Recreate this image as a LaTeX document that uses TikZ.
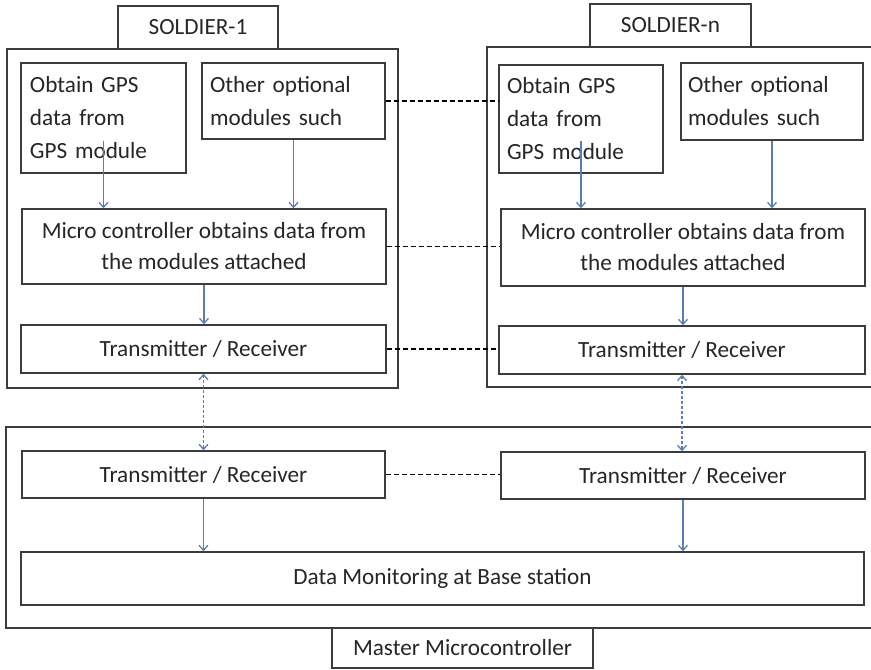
\documentclass[tikz,border=0pt]{standalone}
\usepackage{fontspec}
\setmainfont{Carlito}
\usetikzlibrary{arrows.meta}
\definecolor{edge}{HTML}{3C3C3C}
\definecolor{flow}{HTML}{5B7DB5}
\definecolor{ink}{HTML}{262626}
% a box given by its corners: name, x1, y1, x2, y2, extra options, text
\newcommand\panel[7]{%
  \node[box, minimum width={#4-#2}, minimum height={#5-#3}, #6]
    (#1) at ({(#2+#4)/2},{(#3+#5)/2}) {#7};}
\begin{document}
\begin{tikzpicture}[x=1pt, y=-1pt,
  box/.style={draw=edge, line width=1.5pt, fill=white, text=ink, inner sep=0pt,
    font=\fontsize{23.2}{33}\selectfont},
  lefttext/.style={align=left, text width={#1}},
  frame/.style={draw=edge, line width=1.5pt},
  tip/.tip={Straight Barb[length=5pt, width=9pt]},
  flowarrow/.style={draw=flow, line width=1.3pt, -tip},
  linkarrow/.style={draw=flow, line width=1.3pt, dash pattern=on 3pt off 2pt, tip-tip},
  peer/.style={draw=black, line width=1.3pt, dash pattern=on 5pt off 3pt}]
\useasboundingbox (0,0) rectangle (871,670);
\clip (0,0) rectangle (871,670);

% enclosing frames
\draw[frame] (7,49) rectangle (398,388);
\draw[frame] (487,47) rectangle (890,387);
\draw[frame] (6,427) rectangle (890,628);

% soldier 1
\panel{tab1}{118}{6}{278}{49}{}{SOLDIER-1}
\panel{gps1}{21}{63}{186}{173}{lefttext=147pt}{Obtain GPS\\data from\\GPS module}
\panel{oth1}{202}{63}{385}{139}{lefttext=167pt}{Other optional\\modules such}
\panel{mic1}{22}{209}{386}{284}{align=center, font=\fontsize{23.2}{31}\selectfont}{Micro controller obtains data from\\the modules attached}
\panel{tr1}{21}{325}{386}{373}{}{Transmitter / Receiver}

% soldier n
\panel{tabn}{590}{4}{751}{47}{}{SOLDIER-n}
\panel{gpsn}{499}{65}{663}{173}{lefttext=148pt}{Obtain GPS\\data from\\GPS module}
\panel{othn}{681}{63}{863}{140}{lefttext=168pt}{Other optional\\modules such}
\panel{micn}{501}{209}{865}{286}{align=center, font=\fontsize{23.2}{31}\selectfont}{Micro controller obtains data from\\the modules attached}
\panel{trn}{499}{326}{865}{374}{}{Transmitter / Receiver}

% master side
\panel{trb1}{22}{451}{385}{498}{}{Transmitter / Receiver}
\panel{trbn}{501}{452}{865}{499}{}{Transmitter / Receiver}
\panel{data}{21}{552}{864}{605}{}{Data Monitoring at Base station}
\panel{master}{332}{628}{593}{668}{}{Master Microcontroller}

% data flow inside each soldier
\draw[flowarrow] ([yshift=33pt]gps1.south) -- (gps1.south |- mic1.north);
\draw[flowarrow] (oth1.south) -- (oth1.south |- mic1.north);
\draw[flowarrow] (mic1.south) -- (mic1.south |- tr1.north);
\draw[flowarrow] ([yshift=33pt]gpsn.south) -- (gpsn.south |- micn.north);
\draw[flowarrow] (othn.south) -- (othn.south |- micn.north);
\draw[flowarrow] (micn.south) -- (micn.south |- trn.north);

% radio links to the master
\draw[linkarrow] (tr1.south) -- (tr1.south |- trb1.north);
\draw[linkarrow] (trn.south) -- (trn.south |- trbn.north);

% master flow
\draw[flowarrow] (trb1.south) -- (trb1.south |- data.north);
\draw[flowarrow] (trbn.south) -- (trbn.south |- data.north);

% peer links between soldiers
\draw[peer] (oth1.east) -- (oth1.east -| gpsn.west);
\draw[peer] (mic1.east) -- (mic1.east -| micn.west);
\draw[peer] (tr1.east) -- (tr1.east -| trn.west);
\draw[peer] (trb1.east) -- (trb1.east -| trbn.west);
\end{tikzpicture}
\end{document}
